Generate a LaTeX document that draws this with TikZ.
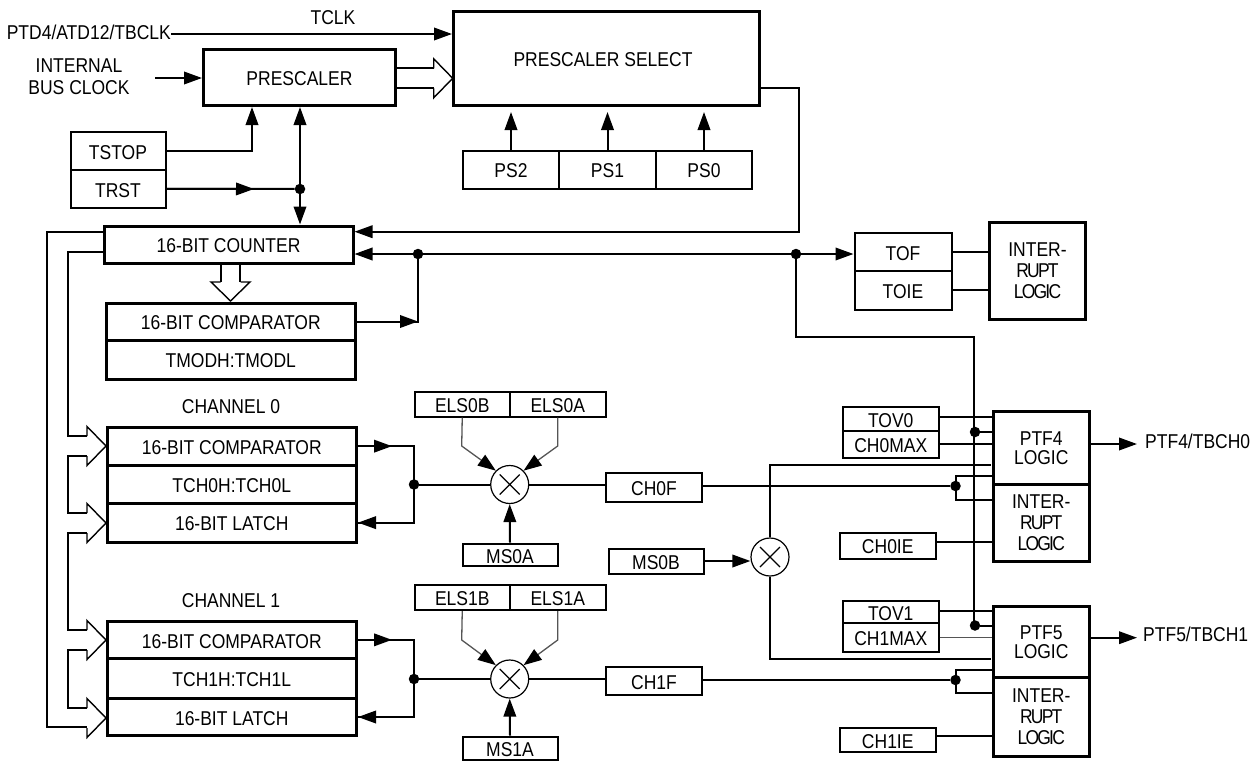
\documentclass[tikz,border=0pt]{standalone}
\usepackage{fontspec}
\setmainfont[FakeStretch=0.875]{Liberation Sans}
\newfontfamily\tightfont[FakeStretch=0.875,LetterSpace=-9]{Liberation Sans}
\usetikzlibrary{arrows.meta}
\definecolor{tmrblack}{HTML}{000000}
\definecolor{tmrgray}{HTML}{555555}
\tikzset{
  tiphead/.tip={Triangle[length=18pt,width=12.5pt]},
  multibox/.style={draw=tmrblack,line width=3pt,inner sep=0pt,align=center,text=tmrblack},
  thickbox/.style={multibox,text height=16.5pt,text depth=0pt},
  thinbox/.style={draw=tmrblack,line width=2pt,inner sep=0pt,align=center,text=tmrblack,text height=16.5pt,text depth=0pt},
  wire/.style={draw=tmrblack,line width=2pt},
  tipwire/.style={wire,-tiphead},
  bothwire/.style={wire,tiphead-tiphead},
  fadewire/.style={draw=tmrgray,line width=1.3pt},
  fadetip/.style={fadewire,-{Triangle[length=18pt,width=13pt,color=tmrblack]}},
  junction/.style={circle,fill=tmrblack,inner sep=0pt,minimum size=10.5pt},
  textlabel/.style={inner sep=0pt,align=center,text=tmrblack},
  muxnode/.style={circle,draw=tmrblack,line width=1.2pt,inner sep=0pt,minimum size=38pt,
    path picture={\draw[tmrblack,line width=1.2pt,shift={(path picture bounding box.center)}]
      (-10,-10) -- (10,10) (-10,10) -- (10,-10);}},
  busright/.pic={\draw[tmrblack,line width=1.4pt] (-19,-10) -- (-19,-19.5) -- (0,0) -- (-19,19.5) -- (-19,10);}
}
\newcommand{\introtext}{INTER-\\{\tightfont RUPT}\\{\tightfont LOGIC}}
\begin{document}
\begin{tikzpicture}[x=1pt,y=-1pt,font=\fontsize{20}{21}\selectfont]
  \useasboundingbox (0,0) rectangle (1259,761);

  \node[thickbox,minimum width=192,minimum height=56.5] (prescaler) at (299.5,77.25) {PRESCALER};
  \node[thickbox,minimum width=306,minimum height=94.5] (select) at (606.5,58.25) {PRESCALER SELECT\hspace{7pt}};
  \node[thinbox,minimum width=96.5,minimum height=38] (ps2) at (511,169.5) {PS2};
  \node[thinbox,minimum width=96.5,minimum height=38] (ps1) at (607.5,169.5) {PS1};
  \node[thinbox,minimum width=96.5,minimum height=38] (ps0) at (704,169.5) {PS0};
  \node[thinbox,minimum width=95,minimum height=38.5] (tstop) at (118,150.75) {TSTOP};
  \node[thinbox,minimum width=95,minimum height=37.5] (trst) at (118,188.75) {TRST};
  \node[thickbox,minimum width=249,minimum height=37] (counter) at (228.5,244.5) {16-BIT COUNTER};
  \node[thickbox,minimum width=248.5,minimum height=37] (cmpmod) at (230.75,321.5) {16-BIT COMPARATOR};
  \node[thickbox,minimum width=248.5,minimum height=39] (tmod) at (230.75,359.5) {TMODH:TMODL};

  \node[textlabel,anchor=east] (tbclk) at (171,32) {PTD4/ATD12/TBCLK};
  \node[textlabel] (tclk) at (333,18) {TCLK};
  \node[textlabel] (busclk) at (79,77) {INTERNAL\\[1pt]BUS CLOCK};
  \node[textlabel] (chan0) at (231,406.5) {CHANNEL 0};
  \node[textlabel] (chan1) at (231,600.7) {CHANNEL 1};
  \node[textlabel,anchor=west] (tbch0) at (1145,441) {PTF4/TBCH0};
  \node[textlabel,anchor=west] (tbch1) at (1143,634) {PTF5/TBCH1};

  \node[thinbox,minimum width=97,minimum height=38.5] (tof) at (903,251.75) {TOF};
  \node[thinbox,minimum width=97,minimum height=38.5] (toie) at (903,290.25) {TOIE};
  \node[multibox,minimum width=96,minimum height=97] (intof) at (1037.5,270.5) {\introtext};

  \node[thickbox,minimum width=249.5,minimum height=38.3] (cmp0) at (231.75,446.15) {16-BIT COMPARATOR};
  \node[thickbox,minimum width=249.5,minimum height=38] (tch0) at (231.75,484.3) {TCH0H:TCH0L};
  \node[thickbox,minimum width=249.5,minimum height=38.7] (latch0) at (231.75,522.65) {16-BIT LATCH};
  \node[thickbox,minimum width=249.5,minimum height=37.7] (cmp1) at (231.75,639.85) {16-BIT COMPARATOR};
  \node[thickbox,minimum width=249.5,minimum height=39.6] (tch1) at (231.75,678.5) {TCH1H:TCH1L};
  \node[thickbox,minimum width=249.5,minimum height=37.4] (latch1) at (231.75,717) {16-BIT LATCH};

  \node[thinbox,minimum width=95.5,minimum height=25] (els0b) at (462.25,404) {ELS0B};
  \node[thinbox,minimum width=95.5,minimum height=25] (els0a) at (557.75,404) {ELS0A};
  \node[thinbox,minimum width=95,minimum height=22.5] (ms0a) at (510,554.75) {MS0A};
  \node[thinbox,minimum width=96,minimum height=29] (ch0f) at (654,487) {CH0F};
  \node[thinbox,minimum width=95.5,minimum height=25.5] (els1b) at (462.25,597.25) {ELS1B};
  \node[thinbox,minimum width=95.5,minimum height=25.5] (els1a) at (557.75,597.25) {ELS1A};
  \node[thinbox,minimum width=95,minimum height=23.5] (ms1a) at (510,748.25) {MS1A};
  \node[thinbox,minimum width=96,minimum height=28.5] (ch1f) at (654,680.75) {CH1F};
  \node[thinbox,minimum width=95,minimum height=25] (ms0b) at (656,561) {MS0B};
  \node[muxnode] (mux0) at (509.7,484.5) {};
  \node[muxnode] (mux1) at (509.7,679) {};
  \node[muxnode] (muxb) at (770,557) {};

  \node[thinbox,minimum width=95.5,minimum height=24.5] (tov0) at (890.75,418.75) {TOV0};
  \node[thinbox,minimum width=95.5,minimum height=26.5] (ch0max) at (890.75,444.25) {CH0MAX};
  \node[thinbox,minimum width=95.5,minimum height=26] (ch0ie) at (887.75,545.5) {CH0IE};
  \node[thinbox,minimum width=95.5,minimum height=22.6] (tov1) at (890.75,612) {TOV1};
  \node[thinbox,minimum width=95.5,minimum height=28.2] (ch1max) at (890.75,637.4) {CH1MAX};
  \node[thinbox,minimum width=95.5,minimum height=24.5] (ch1ie) at (887.75,739.75) {CH1IE};
  \node[multibox,minimum width=95.5,minimum height=72.5] (ptf4) at (1041.25,447.75) {PTF4\\[-2pt]LOGIC};
  \node[multibox,minimum width=95.5,minimum height=77] (int4) at (1041.25,522.5) {\introtext};
  \node[multibox,minimum width=95.5,minimum height=71.2] (ptf5) at (1041.25,642.1) {PTF5\\[-2pt]LOGIC};
  \node[multibox,minimum width=95.5,minimum height=78.3] (int5) at (1041.25,716.85) {\introtext};

  \node[junction] (jrst) at (300,189) {};
  \node[junction] (jmod) at (418,254) {};
  \node[junction] (jtof) at (796,254) {};
  \node[junction] (jcmp0) at (414,484.5) {};
  \node[junction] (jcmp1) at (414,679) {};
  \node[junction] (jtov0) at (975,432) {};
  \node[junction] (jtov1) at (975,625.5) {};
  \node[junction] (jch0f) at (955.5,486) {};
  \node[junction] (jch1f) at (955.5,680) {};

  \draw[tipwire] (tbclk.east |- 0,34) -- (select.west |- 0,34);
  \draw[tipwire] (155,78) -- (prescaler.west |- 0,78);
  \draw[wire] (prescaler.east |- 0,67.7) -- (433.5,67.7);
  \draw[wire] (prescaler.east |- 0,87.7) -- (433.5,87.7);
  \pic at (452.7,78.3) {busright};
  \draw[tipwire] (tstop.east) -| (prescaler.south -| 252,0);
  \draw[bothwire] (prescaler.south -| 300,0) -- (counter.north -| 300,0);
  \draw[wire] (trst.east) -- (jrst);
  \draw[tipwire] (trst.east) -- (254,189);
  \draw[tipwire] (ps2.north) -- ++(0,-37.5);
  \draw[tipwire] (ps1.north) -- ++(0,-37.5);
  \draw[tipwire] (ps0.north) -- ++(0,-37.5);
  \draw[tipwire] (select.east |- 0,87.7) -- (799,87.7) |- (counter.east |- 0,231.7);
  \draw[bothwire] (counter.east |- 0,254) -- (tof.west |- 0,254);
  \draw[wire] (cmpmod.east) -- (jmod.center |- cmpmod.east) -- (jmod);
  \draw[tipwire] (cmpmod.east) -- (jmod.center |- cmpmod.east);
  \draw[wire] (counter.south -| 220.7,0) -- (220.7,282);
  \draw[wire] (counter.south -| 240.2,0) -- (240.2,282);
  \pic[rotate=-90] at (230.5,301) {busright};

  \draw[wire] (tof.east) -- (intof.west |- tof.east);
  \draw[wire] (toie.east) -- (intof.west |- toie.east);
  \draw[wire] (jtof) |- (973.7,336.7) -- (973.7,625.5);

  \draw[wire] (counter.west |- 0,231.7) -- (47,231.7) |- (87,726.7);
  \draw[wire] (counter.west |- 0,251.7) -- (68,251.7) |- (87,435.7);
  \draw[wire] (87,456) -| (68,512.7) -- (87,512.7);
  \draw[wire] (87,533.3) -| (68,630) -- (87,630);
  \draw[wire] (87,650) -| (68,708.3) -- (87,708.3);
  \pic at (106,446) {busright};
  \pic at (106,523) {busright};
  \pic at (106,640) {busright};
  \pic at (106,718) {busright};

  \draw[wire] (cmp0.east) -- (414,446.15) |- (latch0.east);
  \draw[tipwire] (cmp0.east) -- (392,446.15);
  \draw[tipwire] (414,522.65) -- (latch0.east);
  \draw[wire] (jcmp0) -- (mux0);
  \draw[wire] (mux0) -- (ch0f.west |- mux0);
  \draw[fadetip] (els0b.south) -- (461.7,446) -- (mux0.north west);
  \draw[fadetip] (els0a.south) -- (557.7,446) -- (mux0.north east);
  \draw[tipwire] (ms0a.north) -- (mux0.south);

  \draw[wire] (cmp1.east) -- (414,639.85) |- (latch1.east);
  \draw[tipwire] (cmp1.east) -- (392,639.85);
  \draw[tipwire] (414,717) -- (latch1.east);
  \draw[wire] (jcmp1) -- (mux1);
  \draw[wire] (mux1) -- (ch1f.west |- mux1);
  \draw[fadetip] (els1b.south) -- (461.7,640) -- (mux1.north west);
  \draw[fadetip] (els1a.south) -- (557.7,640) -- (mux1.north east);
  \draw[tipwire] (ms1a.north) -- (mux1.south);

  \draw[tipwire] (ms0b.east) -- (muxb.west |- ms0b.east);
  \draw[wire] (muxb.north) -- (770,465) -- (991,465);
  \draw[wire] (muxb.south) -- (770,658.7) -- (991,658.7);

  \draw[wire] (ch0f.east |- jch0f) -- (jch0f);
  \draw[wire] (ptf4.west |- 0,476) -| (jch0f.center) |- (int4.west |- 0,500);
  \draw[wire] (ch1f.east |- jch1f) -- (jch1f);
  \draw[wire] (ptf5.west |- 0,670) -| (jch1f.center) |- (int5.west |- 0,693.3);

  \draw[wire] (tov0.east |- 0,416.7) -- (ptf4.west |- 0,416.7);
  \draw[wire] (jtov0) -- (ptf4.west |- jtov0);
  \draw[wire] (ch0max.east) -- (ptf4.west |- ch0max.east);
  \draw[wire] (ch0ie.east |- 0,541.7) -- (int4.west |- 0,541.7);
  \draw[wire] (tov1.east |- 0,610.7) -- (ptf5.west |- 0,610.7);
  \draw[wire] (jtov1) -- (ptf5.west |- jtov1);
  \draw[fadewire] (ch1max.east |- 0,637.7) -- (ptf5.west |- 0,637.7);
  \draw[wire] (ch1ie.east |- 0,736) -- (int5.west |- 0,736);
  \draw[tipwire] (ptf4.east |- 0,444) -- (1137,444);
  \draw[tipwire] (ptf5.east |- 0,637.7) -- (1137,637.7);
\end{tikzpicture}
\end{document}
